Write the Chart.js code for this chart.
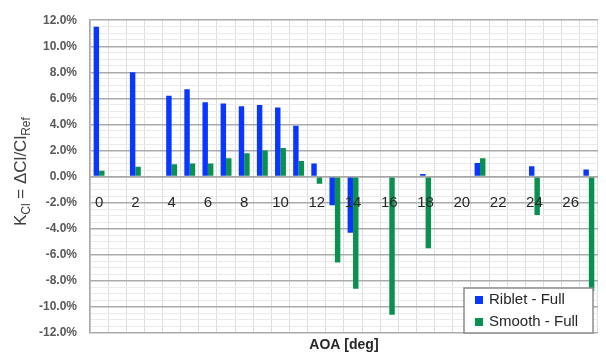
<!DOCTYPE html>
<html>
<head>
<meta charset="utf-8">
<script src="https://cdn.jsdelivr.net/npm/chart.js@4"></script>
<style>
  html, body { margin: 0; padding: 0; background: #ffffff; }
  #wrap { width: 606px; height: 356px; position: relative; }
</style>
</head>
<body>
<div id="wrap"><canvas id="c" width="606" height="356"></canvas></div>
<script>
// AOA categories (deg)
const categories = ['0','1','2','3','4','5','6','7','8','9','10','11','12','13','14','15','16','17','18','19','20','21','22','23','24','25','26','27'];
// x tick labels shown on the axis
const xTickLabels = ['0','2','4','6','8','10','12','14','16','18','20','22','24','26'];
// series values, percent
const ribletFull = [11.5, null, 8.0, null, 6.2, 6.7, 5.7, 5.6, 5.4, 5.5, 5.3, 3.9, 1.0, -2.2, -4.3, null, 0, null, 0.2, null, null, 1.05, null, null, 0.8, null, null, 0.55];
const smoothFull = [0.45, null, 0.75, null, 0.95, 1.0, 1.0, 1.4, 1.8, 2.0, 2.2, 1.2, -0.55, -6.6, -8.6, null, -10.6, null, -5.5, null, null, 1.4, null, null, -2.95, null, null, -8.8];
const seriesNames = ['Riblet - Full', 'Smooth - Full'];
const seriesColors = ['#0a37ff', '#0a9150'];

const yTitlePlugin = {
  id: 'yTitle',
  afterDraw(chart) {
    const ctx = chart.ctx;
    const area = chart.chartArea;
    const parts = [
      {t: 'K', size: 17, dy: 0},
      {t: 'Cl', size: 12, dy: 4},
      {t: ' = \u0394Cl/Cl', size: 17, dy: 0},
      {t: 'Ref', size: 12, dy: 4}
    ];
    ctx.save();
    let total = 0;
    parts.forEach(p => { ctx.font = p.size + 'px "Liberation Sans", Arial, sans-serif'; p.w = ctx.measureText(p.t).width; total += p.w; });
    ctx.translate(20, (area.top + area.bottom) / 2 - 5);
    ctx.rotate(-Math.PI / 2);
    ctx.fillStyle = '#404040';
    ctx.textBaseline = 'alphabetic';
    let x = -total / 2;
    parts.forEach(p => {
      ctx.font = p.size + 'px "Liberation Sans", Arial, sans-serif';
      ctx.fillText(p.t, x, 6 + p.dy);
      x += p.w;
    });
    ctx.restore();
  }
};

const legendPlugin = {
  id: 'boxLegend',
  afterDraw(chart) {
    const ctx = chart.ctx;
    const bx = 464, by = 288, bw = 129, bh = 45;
    ctx.save();
    ctx.fillStyle = '#ffffff';
    ctx.fillRect(bx, by, bw, bh);
    ctx.strokeStyle = '#8c8c8c';
    ctx.lineWidth = 1.5;
    ctx.strokeRect(bx, by, bw, bh);
    ctx.font = '15px "Liberation Sans", Arial, sans-serif';
    ctx.textBaseline = 'middle';
    chart.data.datasets.forEach((ds, i) => {
      const cy = by + 12 + i * 22;
      ctx.fillStyle = ds.backgroundColor;
      ctx.fillRect(bx + 11, cy - 4, 8, 8);
      ctx.fillStyle = '#262626';
      ctx.fillText(ds.label, bx + 25, cy);
    });
    ctx.restore();
  }
};

new Chart(document.getElementById('c'), {
  type: 'bar',
  data: {
    labels: categories,
    datasets: [
      { label: seriesNames[0], data: ribletFull, backgroundColor: seriesColors[0], borderWidth: 0 },
      { label: seriesNames[1], data: smoothFull, backgroundColor: seriesColors[1], borderWidth: 0 }
    ]
  },
  options: {
    responsive: false,
    animation: false,
    devicePixelRatio: 1,
    categoryPercentage: 0.6,
    barPercentage: 1.0,
    layout: { padding: { left: 30, top: 15, right: 0, bottom: 0 } },
    plugins: {
      legend: { display: false },
      tooltip: { enabled: false },
      title: {
        display: true,
        position: 'bottom',
        fullSize: false,
        text: 'AOA [deg]',
        color: '#262626',
        font: { family: '"Liberation Sans", Arial, sans-serif', size: 14, weight: 'bold', lineHeight: 1.2 },
        padding: { top: 3.5, bottom: 2.7 }
      }
    },
    scales: {
      x: {
        type: 'category',
        position: { y: 0 },
        grid: {
          color: '#dedede',
          lineWidth: 1,
          offset: true,
          drawTicks: false
        },
        border: { display: true, color: '#a8a8a8', width: 1.5, z: 1 },
        ticks: {
          z: 2,
          autoSkip: false,
          maxRotation: 0,
          padding: 17,
          color: '#262626',
          font: { family: '"Liberation Sans", Arial, sans-serif', size: 15 },
          callback: function (value) {
            const lab = this.getLabelForValue(value);
            return xTickLabels.includes(lab) ? lab : '';
          }
        }
      },
      y: {
        min: -12,
        max: 12,
        afterFit(scale) { scale.width = 60; },
        grid: {
          drawTicks: false,
          color: (ctx) => (ctx.tick && Math.abs(ctx.tick.value % 2) < 1e-9) ? '#ababab' : '#ebebeb',
          lineWidth: (ctx) => (ctx.tick && Math.abs(ctx.tick.value % 2) < 1e-9) ? 1.5 : 1
        },
        border: { display: true, color: '#a8a8a8', width: 1.5 },
        ticks: {
          stepSize: 0.5,
          autoSkip: false,
          padding: 13,
          color: '#595959',
          font: { family: '"Liberation Sans", Arial, sans-serif', size: 12, weight: 'bold' },
          callback: (v) => (Math.abs(v % 2) < 1e-9) ? v.toFixed(1) + '%' : ''
        }
      }
    }
  },
  plugins: [yTitlePlugin, legendPlugin]
});
</script>
</body>
</html>
